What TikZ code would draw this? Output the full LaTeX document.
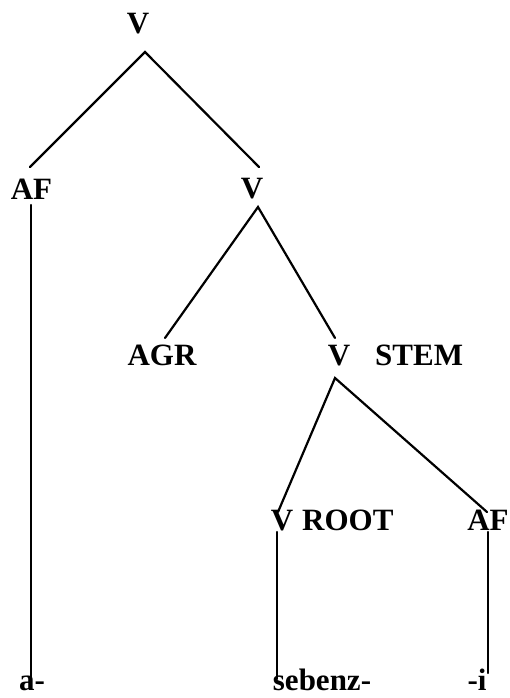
\documentclass[tikz,border=0pt]{standalone}
\usepackage{fontspec}
\setmainfont{Liberation Serif}
\begin{document}
\begin{tikzpicture}[x=1pt,y=-1pt,
  lab/.style={anchor=base,inner sep=0pt,font=\fontsize{31}{37}\selectfont\bfseries},
  leaf/.style={lab,text depth=0pt},
  edge/.style={line width=2.2pt,line cap=round}]
\useasboundingbox (0,0) rectangle (510,698);
% labels
\node[lab] (vtop) at (138,34) {V};
\node[lab] (af1) at (31.5,199) {AF};
\node[lab] (v2) at (252,198) {V};
\node[lab] (agr) at (162,365) {AGR};
\node[lab] (v3) at (339,365) {V};
\node[lab,anchor=base west] (stem) at (375,365) {STEM};
\node[lab] (vr) at (282,530) {V};
\node[lab,anchor=base west] (root) at (302,530) {ROOT};
\node[lab] (af3) at (488,530) {AF};
\node[leaf] (a) at (32,690) {a-};
\node[leaf] (seb) at (322,690) {sebenz-};
\node[leaf] (i) at (477,690) {-i};
% branch points
\coordinate (vtopB) at (145,52);
\coordinate (af1T) at (30,167);
\coordinate (af1B) at (31,205);
\coordinate (aT) at (31,679);
\coordinate (v2T) at (259,167);
\coordinate (v2B) at (258,207);
\coordinate (agrT) at (165,338);
\coordinate (v3T) at (335,338);
\coordinate (v3B) at (335,378);
\coordinate (vrT) at (278,512);
\coordinate (vrB) at (277,532);
\coordinate (sebT) at (277,679);
\coordinate (af3T) at (487,512);
\coordinate (af3B) at (488,532);
\coordinate (iT) at (488,673);
% connectors
\draw[edge] (af1T) -- (vtopB) -- (v2T);
\draw[edge] (af1B) -- (aT);
\draw[edge] (agrT) -- (v2B) -- (v3T);
\draw[edge] (vrT) -- (v3B) -- (af3T);
\draw[edge] (vrB) -- (sebT);
\draw[edge] (af3B) -- (iT);
\end{tikzpicture}
\end{document}
